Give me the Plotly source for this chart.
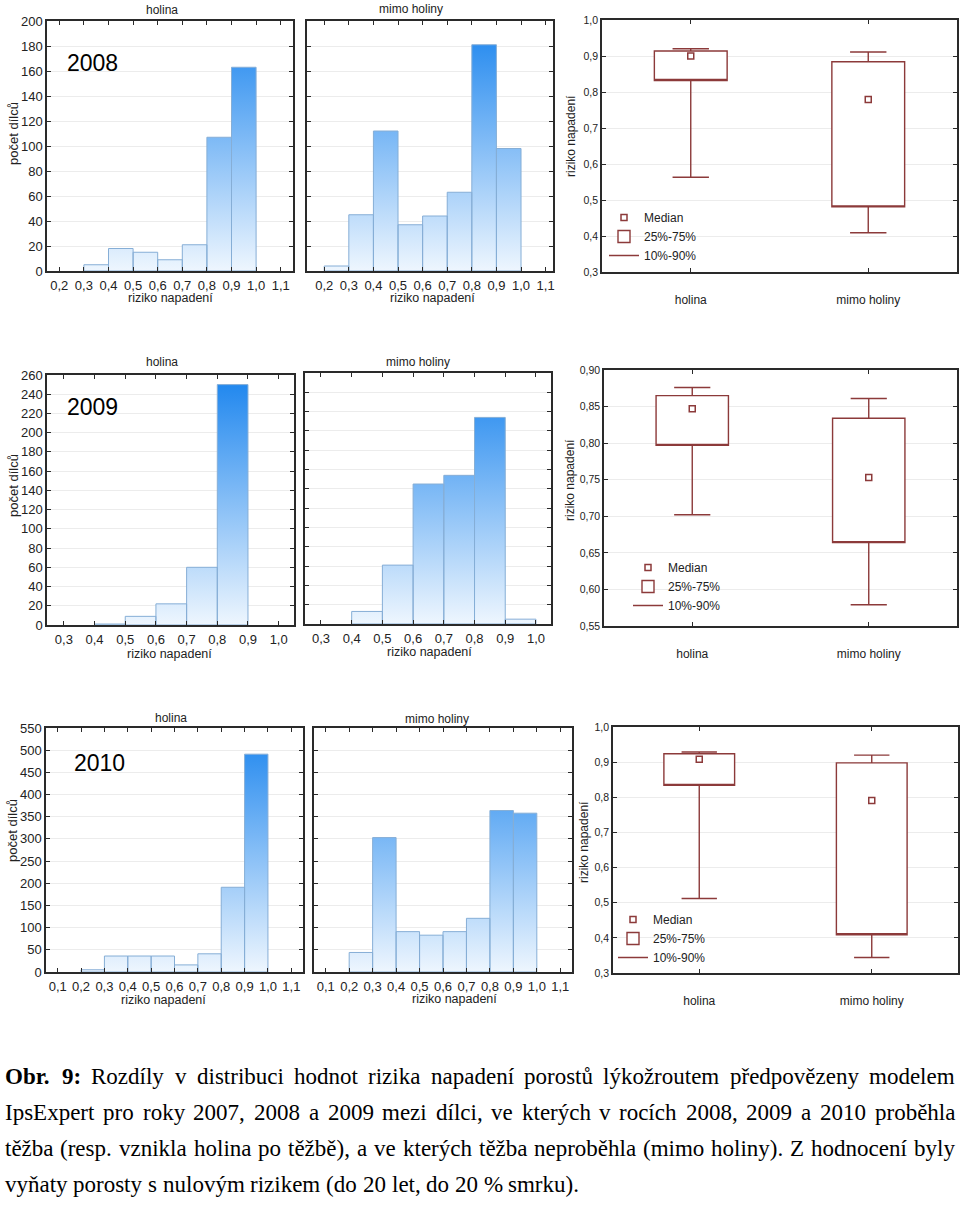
import plotly.graph_objects as go

W, H = 960, 1206

# ------------------------------------------------------------------ data
bin_width = 0.1

h2008_holina_left = [0.3, 0.4, 0.5, 0.6, 0.7, 0.8, 0.9]
h2008_holina_count = [5, 18, 15, 9, 21, 107, 163]
h2008_mimo_left = [0.2, 0.3, 0.4, 0.5, 0.6, 0.7, 0.8, 0.9]
h2008_mimo_count = [4, 45, 112, 37, 44, 63, 181, 98]

h2009_holina_left = [0.4, 0.5, 0.6, 0.7, 0.8]
h2009_holina_count = [1, 9, 22, 60, 250]
h2009_mimo_left = [0.4, 0.5, 0.6, 0.7, 0.8, 0.9]
h2009_mimo_count = [13, 61, 145, 154, 214, 5]

h2010_holina_left = [0.2, 0.3, 0.4, 0.5, 0.6, 0.7, 0.8, 0.9]
h2010_holina_count = [5, 36, 36, 36, 16, 41, 191, 491]
h2010_mimo_left = [0.2, 0.3, 0.4, 0.5, 0.6, 0.7, 0.8, 0.9]
h2010_mimo_count = [44, 303, 91, 83, 91, 121, 364, 358]

x_ticks_2008 = [0.2, 0.3, 0.4, 0.5, 0.6, 0.7, 0.8, 0.9, 1.0, 1.1]
x_ticks_2009 = [0.3, 0.4, 0.5, 0.6, 0.7, 0.8, 0.9, 1.0]
x_ticks_2010 = [0.1, 0.2, 0.3, 0.4, 0.5, 0.6, 0.7, 0.8, 0.9, 1.0, 1.1]
y_ticks_2008 = [0, 20, 40, 60, 80, 100, 120, 140, 160, 180, 200]
y_ticks_2009 = [0, 20, 40, 60, 80, 100, 120, 140, 160, 180, 200, 220, 240, 260]
y_ticks_2010 = [0, 50, 100, 150, 200, 250, 300, 350, 400, 450, 500, 550]

box_groups = ["holina", "mimo holiny"]
box2008_p10 = [0.563, 0.409]
box2008_q1 = [0.832, 0.481]
box2008_med = [0.900, 0.779]
box2008_q3 = [0.914, 0.884]
box2008_p90 = [0.920, 0.911]

box2009_p10 = [0.702, 0.579]
box2009_q1 = [0.797, 0.664]
box2009_med = [0.847, 0.753]
box2009_q3 = [0.865, 0.834]
box2009_p90 = [0.876, 0.861]

box2010_p10 = [0.512, 0.344]
box2010_q1 = [0.834, 0.409]
box2010_med = [0.908, 0.791]
box2010_q3 = [0.924, 0.898]
box2010_p90 = [0.929, 0.920]

box_y_ticks_2008 = [0.3, 0.4, 0.5, 0.6, 0.7, 0.8, 0.9, 1.0]
box_y_ticks_2009 = [0.55, 0.60, 0.65, 0.70, 0.75, 0.80, 0.85, 0.90]
box_y_ticks_2010 = [0.3, 0.4, 0.5, 0.6, 0.7, 0.8, 0.9, 1.0]

years = ["2008", "2009", "2010"]
legend_labels = ["Median", "25%-75%", "10%-90%"]

# ------------------------------------------------------------------ style
SANS = "Liberation Sans, Arial, sans-serif"
SERIF = "Liberation Serif, Times New Roman, serif"
BOXC = "#8c3a3a"
FRAME = "#2a2a2a"
GRID = "#ececec"


def fmt(v, d):
    return f"{v:.{d}f}".replace(".", ",")


def xdom(a, b):
    return [a / W, b / W]


def ydom(top, bot):
    return [1 - bot / H, 1 - top / H]


fig = go.Figure()
layout = dict(
    width=W, height=H, margin=dict(l=0, r=0, t=0, b=0, pad=0, autoexpand=False),
    paper_bgcolor="white", plot_bgcolor="white", showlegend=True,
    font=dict(family=SANS, color="#222"),
)
annotations = []


def ann(text, x, y, size, angle=0, color="#222", family=SANS, xanchor="center"):
    annotations.append(dict(text=text, x=x / W, y=1 - y / H, xref="paper", yref="paper",
                            showarrow=False, textangle=angle, xanchor=xanchor, yanchor="middle",
                            font=dict(size=size, color=color, family=family)))


# ------------------------------------------------------------------ histograms
def add_hist(idx, lefts, counts, xrange_, yticks, xticks, xd, yd, show_ylabels):
    ymax = yticks[-1]
    xs, ys = [], []
    for l, c in zip(lefts, counts):
        r = round(l + bin_width, 3)
        xs += [l, l, r, r, l, None]
        ys += [0, c, c, 0, 0, None]
    fig.add_trace(go.Scatter(
        x=xs, y=ys, mode="lines", fill="toself",
        line=dict(color="#86aed6", width=1),
        fillgradient=dict(type="vertical", colorscale=[[0, "#eef6fe"], [1, "#1a84ee"]],
                          start=0, stop=ymax),
        xaxis=f"x{idx}", yaxis=f"y{idx}", showlegend=False, hoverinfo="skip"))
    layout[f"xaxis{idx}"] = dict(
        domain=xd, anchor=f"y{idx}", range=xrange_, tickvals=xticks,
        ticktext=[fmt(v, 1) for v in xticks], ticks="inside", ticklen=4, tickcolor=FRAME,
        showline=True, linecolor=FRAME, linewidth=1.5, mirror="ticks", showgrid=False,
        zeroline=False, tickfont=dict(size=13, family=SANS, color="#222"), ticklabelstandoff=2)
    layout[f"yaxis{idx}"] = dict(
        domain=yd, anchor=f"x{idx}", range=[0, ymax], tickvals=yticks,
        ticktext=[str(v) for v in yticks], ticks="inside", ticklen=4, tickcolor=FRAME,
        showline=True, linecolor=FRAME, linewidth=1.5, mirror="ticks", showgrid=True,
        gridcolor=GRID, zeroline=False, showticklabels=show_ylabels,
        tickfont=dict(size=13, family=SANS, color="#222"))


add_hist(1, h2008_holina_left, h2008_holina_count, [0.15, 1.15], y_ticks_2008, x_ticks_2008,
         xdom(47, 293), ydom(21, 271), True)
add_hist(2, h2008_mimo_left, h2008_mimo_count, [0.13, 1.13], y_ticks_2008, x_ticks_2008,
         xdom(307, 553), ydom(21, 271), False)
add_hist(4, h2009_holina_left, h2009_holina_count, [0.245, 1.05], y_ticks_2009, x_ticks_2009,
         xdom(47, 294), ydom(375, 625), True)
add_hist(5, h2009_mimo_left, h2009_mimo_count, [0.248, 1.049], y_ticks_2009, x_ticks_2009,
         xdom(305, 551), ydom(373, 624), False)
add_hist(7, h2010_holina_left, h2010_holina_count, [0.05, 1.15], y_ticks_2010, x_ticks_2010,
         xdom(46, 303), ydom(728, 972), True)
add_hist(8, h2010_mimo_left, h2010_mimo_count, [0.05, 1.15], y_ticks_2010, x_ticks_2010,
         xdom(314, 572), ydom(728, 972), False)


# ------------------------------------------------------------------ box plots
def add_box(idx, leg, p10, q1, med, q3, p90, yticks, dec, xd, yd, legxy):
    # box body + 10-90 % whiskers (median drawn separately as a square marker)
    fig.add_trace(go.Box(
        x=box_groups, q1=q1, median=q1, q3=q3, lowerfence=p10, upperfence=p90,
        orientation="v", width=0.41, whiskerwidth=0.5, boxpoints=False,
        fillcolor="white", line=dict(color=BOXC, width=1.4),
        name=legend_labels[1], legend=leg, legendrank=2, hoverinfo="skip",
        xaxis=f"x{idx}", yaxis=f"y{idx}"))
    fig.add_trace(go.Scatter(
        x=box_groups, y=med, mode="markers",
        marker=dict(symbol="square-open", size=6, color=BOXC, line=dict(width=1.5, color=BOXC)),
        name=legend_labels[0], legend=leg, legendrank=1, hoverinfo="skip",
        xaxis=f"x{idx}", yaxis=f"y{idx}"))
    fig.add_trace(go.Scatter(
        x=[None], y=[None], mode="lines", line=dict(color=BOXC, width=1.5),
        name=legend_labels[2], legend=leg, legendrank=3, hoverinfo="skip",
        xaxis=f"x{idx}", yaxis=f"y{idx}"))
    layout[f"xaxis{idx}"] = dict(
        domain=xd, anchor=f"y{idx}", type="category", categoryarray=box_groups,
        range=[-0.5, 1.5], ticks="inside", ticklen=4, tickcolor=FRAME, showline=True,
        linecolor=FRAME, linewidth=1.5, mirror="ticks", showgrid=False,
        tickfont=dict(size=12, family=SANS, color="#222"), ticklabelstandoff=16)
    layout[f"yaxis{idx}"] = dict(
        domain=yd, anchor=f"x{idx}", range=[yticks[0], yticks[-1]], tickvals=yticks,
        ticktext=[fmt(v, dec) for v in yticks], ticks="inside", ticklen=4, tickcolor=FRAME,
        showline=True, linecolor=FRAME, linewidth=1.5, mirror="ticks", showgrid=True,
        gridcolor=GRID, zeroline=False, tickfont=dict(size=10.5, family=SANS, color="#222"))
    layout[leg] = dict(
        x=legxy[0] / W, y=1 - legxy[1] / H, xanchor="left", yanchor="top",
        bgcolor="rgba(0,0,0,0)", borderwidth=0, traceorder="normal",
        font=dict(size=12, family=SANS, color="#222"), itemwidth=30, tracegroupgap=0)


add_box(3, "legend", box2008_p10, box2008_q1, box2008_med, box2008_q3, box2008_p90,
        box_y_ticks_2008, 1, xdom(602, 957), ydom(20, 272), (604, 203))
add_box(6, "legend2", box2009_p10, box2009_q1, box2009_med, box2009_q3, box2009_p90,
        box_y_ticks_2009, 2, xdom(604, 957), ydom(370, 626), (628, 553))
add_box(9, "legend3", box2010_p10, box2010_q1, box2010_med, box2010_q3, box2010_p90,
        box_y_ticks_2010, 1, xdom(613, 958), ydom(727, 973), (613, 905))

# ------------------------------------------------------------------ texts
# panel titles
ann("holina", 162, 10, 12)
ann("mimo holiny", 411, 9, 12)
ann("holina", 162, 362, 12)
ann("mimo holiny", 418, 362, 12)
ann("holina", 171, 718, 12)
ann("mimo holiny", 437, 719, 12)
# year labels
ann(years[0], 92, 63, 23, color="#000")
ann(years[1], 92, 407, 23, color="#000")
ann(years[2], 99, 763, 23, color="#000")
# y titles of histograms
ann("počet dílců", 13, 134, 13, angle=-90)
ann("počet dílců", 13, 486, 13, angle=-90)
ann("počet dílců", 12, 831, 13, angle=-90)
# x titles of histograms
ann("riziko napadení", 170, 298, 12.5)
ann("riziko napadení", 432, 298, 12.5)
ann("riziko napadení", 169, 654, 12.5)
ann("riziko napadení", 429, 652, 12.5)
ann("riziko napadení", 163, 1000, 12.5)
ann("riziko napadení", 454, 999, 12.5)
# y titles of box plots
ann("riziko napadení", 571, 136, 12, angle=-90)
ann("riziko napadení", 570, 480, 12, angle=-90)
ann("riziko napadení", 584, 842, 12, angle=-90)

# ------------------------------------------------------------------ caption (justified)
TIMES = {" ": 250, "a": 444, "b": 500, "c": 444, "d": 500, "e": 444, "f": 333, "g": 500,
         "h": 500, "i": 278, "j": 278, "k": 500, "l": 278, "m": 778, "n": 500, "o": 500,
         "p": 500, "q": 500, "r": 333, "s": 389, "t": 278, "u": 500, "v": 500, "w": 722,
         "x": 500, "y": 500, "z": 444, "í": 278, "ý": 500, "ů": 500, "ž": 444, "ř": 333,
         "ě": 444, "č": 444, "ň": 500, "á": 444, "é": 444, "I": 333, "E": 611, "Z": 611,
         "R": 667, "O": 722, ",": 250, ".": 250, ":": 278, "(": 333, ")": 333, "%": 833}
TIMES_BOLD = {"O": 778, "b": 556, "r": 444, ".": 250, "9": 500, ":": 333}
CAP_SIZE = 23


def word_width(w, bold):
    tot = 0
    for ch in w:
        if bold:
            tot += TIMES_BOLD.get(ch, 500)
        else:
            tot += TIMES.get(ch, 500)
    return tot * CAP_SIZE / 1000.0


caption_lines = [
    "Obr. 9: Rozdíly v distribuci hodnot rizika napadení porostů lýkožroutem předpovězeny modelem",
    "IpsExpert pro roky 2007, 2008 a 2009 mezi dílci, ve kterých v rocích 2008, 2009 a 2010 proběhla",
    "těžba (resp. vznikla holina po těžbě), a ve kterých těžba neproběhla (mimo holiny). Z hodnocení byly",
    "vyňaty porosty s nulovým rizikem (do 20 let, do 20 % smrku).",
]
caption_y = [1076, 1112, 1148, 1184]
LEFT, RIGHT = 5, 955
for li, (line, cy) in enumerate(zip(caption_lines, caption_y)):
    words = line.split(" ")
    bolds = [li == 0 and wi < 2 for wi in range(len(words))]
    widths = [word_width(w, b) for w, b in zip(words, bolds)]
    if li < len(caption_lines) - 1:
        gap = (RIGHT - LEFT - sum(widths)) / (len(words) - 1)
    else:
        gap = TIMES[" "] * CAP_SIZE / 1000.0
    x = LEFT
    for w, b, wd in zip(words, bolds, widths):
        annotations.append(dict(
            text=f"<b>{w}</b>" if b else w, x=(x - 1) / W, y=1 - cy / H,
            xref="paper", yref="paper", showarrow=False, xanchor="left", yanchor="middle",
            borderpad=0, font=dict(size=CAP_SIZE, family=SERIF, color="#000")))
        x += wd + gap

layout["annotations"] = annotations
fig.update_layout(**layout)
fig.write_html("out.html", config={"displayModeBar": False},
               post_script="document.body.style.margin='0';")
